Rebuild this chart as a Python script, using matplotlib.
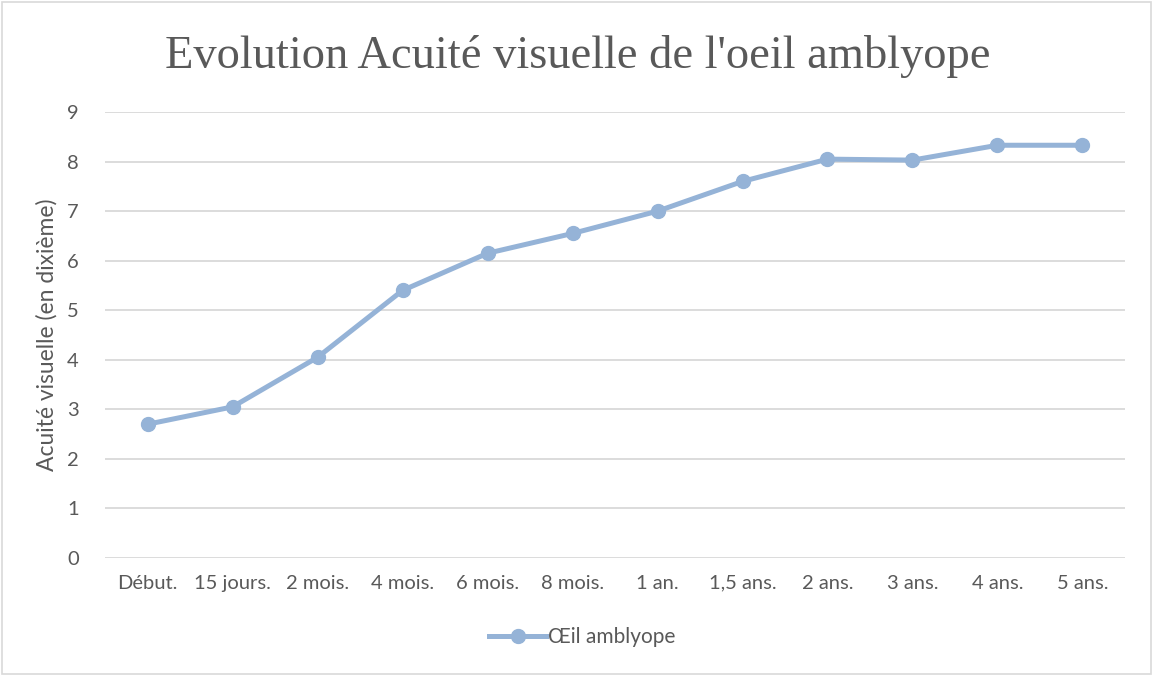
import matplotlib
matplotlib.use("Agg")
import matplotlib.pyplot as plt
from matplotlib.patches import Rectangle

# data
categories = ["Début.", "15 jours.", "2 mois.", "4 mois.", "6 mois.", "8 mois.",
              "1 an.", "1,5 ans.", "2 ans.", "3 ans.", "4 ans.", "5 ans."]
acuite = [2.7, 3.05, 4.05, 5.4, 6.15, 6.55, 7.0, 7.6, 8.05, 8.03, 8.33, 8.33]
y_ticks = list(range(0, 10))

line_color = "#95B3D7"
text_color = "#595959"

plt.rcParams["font.family"] = ["Lato", "DejaVu Sans"]

fig = plt.figure(figsize=(11.53, 6.75), dpi=100)
ax = fig.add_axes([0.0911, 0.1733, 0.8846, 0.6607])

x = list(range(len(categories)))
ax.plot(x, acuite, color=line_color, linewidth=3.6, marker="o",
        markersize=10, label="Œil amblyope", zorder=3)

ax.set_xlim(-0.5, len(categories) - 0.5)
ax.set_ylim(0, 9)
ax.set_yticks(y_ticks)
ax.set_xticks(x)
ax.set_xticklabels(categories)
ax.tick_params(axis="both", length=0, labelsize=14.5, colors=text_color)
ax.tick_params(axis="x", pad=12)
ax.tick_params(axis="y", pad=19)
ax.grid(axis="y", color="#D9D9D9", linewidth=1.3)
ax.set_axisbelow(True)
for s in ax.spines.values():
    s.set_visible(False)

ax.set_ylabel("Acuité visuelle (en dixième)", fontsize=16.5, color=text_color, labelpad=7)

fig.text(0.501, 0.917, "Evolution Acuité visuelle de l'oeil amblyope",
         ha="center", va="center", fontsize=33.5, color=text_color,
         family=["Liberation Serif", "DejaVu Serif"])

fig.legend(loc="center", bbox_to_anchor=(0.505, 0.056), frameon=False,
           fontsize=15, labelcolor=text_color, handlelength=2.7,
           handletextpad=0.1)

fig.add_artist(Rectangle((0.0015, 0.002), 0.997, 0.995, transform=fig.transFigure,
                         fill=False, edgecolor="#D9D9D9", linewidth=1.2))

fig.savefig("out.png", dpi=100)
